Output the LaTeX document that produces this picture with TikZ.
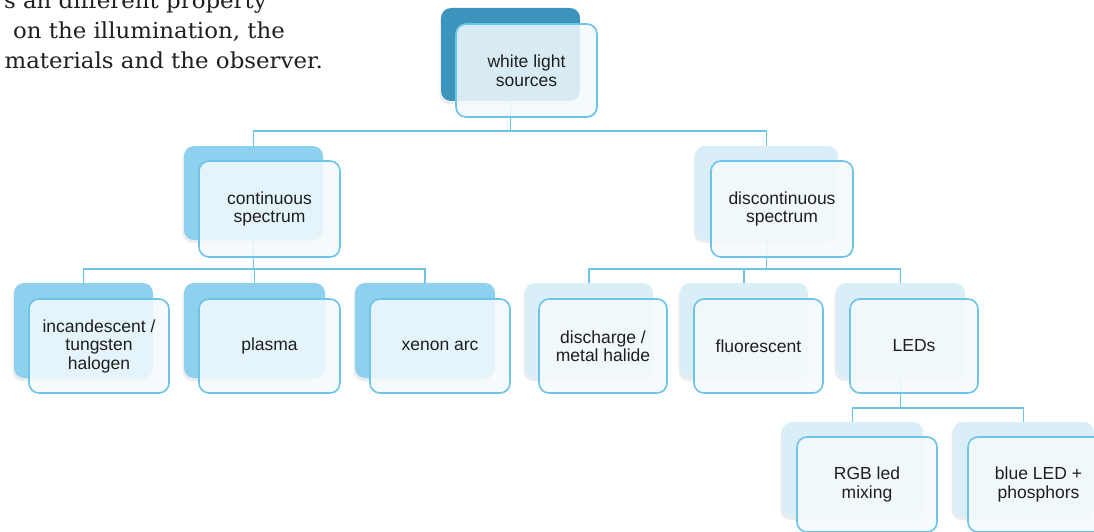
\documentclass[tikz,border=0pt]{standalone}
\usepackage{fontspec}
\setmainfont{Liberation Sans}
\newfontfamily\serifx{DejaVu Serif}[FakeStretch=1.04]
\usetikzlibrary{shadows}
\definecolor{dk}{HTML}{3B94BB}
\definecolor{md}{HTML}{8DD1EE}
\definecolor{lt}{HTML}{D9EEF7}
\definecolor{edgec}{HTML}{6CC4E8}
\definecolor{txt}{HTML}{1E1E1E}
\definecolor{ptxt}{HTML}{231F20}
\definecolor{frontfill}{HTML}{F4FAFC}
\tikzset{
  sz/.style 2 args={minimum width=#1, minimum height=#2},
  backbox/.style={rounded corners=10pt, inner sep=0pt,
    drop shadow={shadow xshift=-1.5pt, shadow yshift=-3pt, opacity=0.15}},
  frontbox/.style={draw=edgec, line width=1.6pt, rounded corners=10pt,
    fill=frontfill, fill opacity=0.86, text opacity=1, text=txt, align=center,
    font=\fontsize{17.5}{18.5}\selectfont, inner sep=0pt},
  conn/.style={draw=edgec, line width=1.5pt},
  prose/.style={anchor=base east, inner sep=0pt, text=ptxt,
    font=\serifx\fontsize{22}{22}\selectfont}
}
\begin{document}
\begin{tikzpicture}[x=1pt,y=-1pt]
\useasboundingbox (0,0) rectangle (1094,532);
\clip (0,0) rectangle (1094,532);
\fill[white] (0,0) rectangle (1094,532);

% prose text
\node[prose] (p1) at (267,9) {s an different property};
\node[prose] (p2) at (285,39) {on the illumination, the};
\node[prose] (p3) at (323,69) {materials and the observer.};

% back boxes
\node[backbox, fill=dk, sz={139pt}{93pt}] (topB) at (510.5,54.5) {};
\node[backbox, fill=md, sz={139pt}{94pt}] (contB) at (253.5,193) {};
\node[backbox, fill=lt, sz={143pt}{94pt}] (discB) at (766.5,193) {};
\node[backbox, fill=md, sz={139pt}{95pt}] (c1B) at (83.5,330.5) {};
\node[backbox, fill=md, sz={141pt}{95pt}] (c2B) at (254.5,330.5) {};
\node[backbox, fill=md, sz={140pt}{95pt}] (c3B) at (425,330.5) {};
\node[backbox, fill=lt, sz={128pt}{95pt}] (d1B) at (589,330.5) {};
\node[backbox, fill=lt, sz={128pt}{95pt}] (d2B) at (744,330.5) {};
\node[backbox, fill=lt, sz={129pt}{95pt}] (d3B) at (900.5,330.5) {};
\node[backbox, fill=lt, sz={141pt}{95pt}] (r1B) at (852.5,469.5) {};
\node[backbox, fill=lt, sz={141pt}{95pt}] (r2B) at (1023.5,469.5) {};

% connectors
\draw[conn] (topB.south) -- ++(0,30) -| (contB.north);
\draw[conn] (topB.south) -- ++(0,30) -| (discB.north);
\draw[conn] (contB.south) -- ++(0,29) -| (c1B.north);
\draw[conn] (contB.south) -- ++(0,29) -| (c2B.north);
\draw[conn] (contB.south) -- ++(0,29) -| (c3B.north);
\draw[conn] (discB.south) -- ++(0,29) -| (d1B.north);
\draw[conn] (discB.south) -- ++(0,29) -| (d2B.north);
\draw[conn] (discB.south) -- ++(0,29) -| (d3B.north);
\draw[conn] (d3B.south) -- ++(0,30) -| (r1B.north);
\draw[conn] (d3B.south) -- ++(0,30) -| (r2B.north);

% front boxes
\node[frontbox, sz={141pt}{93pt}] (top) at (526.5,70.5) {white light\\sources};
\node[frontbox, sz={141pt}{96pt}] (cont) at (269.5,209) {continuous\\spectrum};
\node[frontbox, sz={142pt}{96pt}] (disc) at (782,209) {discontinuous\\spectrum};
\node[frontbox, sz={140pt}{94pt}] (c1) at (99,346) {incandescent /\\tungsten\\halogen};
\node[frontbox, sz={141pt}{94pt}] (c2) at (269.5,346) {plasma};
\node[frontbox, sz={140pt}{94pt}] (c3) at (440,346) {xenon arc};
\node[frontbox, sz={128pt}{94pt}] (d1) at (603,346) {discharge /\\metal halide};
\node[frontbox, sz={129pt}{94pt}] (d2) at (758.5,346) {fluorescent};
\node[frontbox, sz={128pt}{94pt}] (d3) at (914,346) {LEDs};
\node[frontbox, sz={140pt}{95pt}] (r1) at (867,484.5) {RGB led\\mixing};
\node[frontbox, sz={141pt}{95pt}] (r2) at (1038.5,484.5) {blue LED +\\phosphors};
\end{tikzpicture}
\end{document}
